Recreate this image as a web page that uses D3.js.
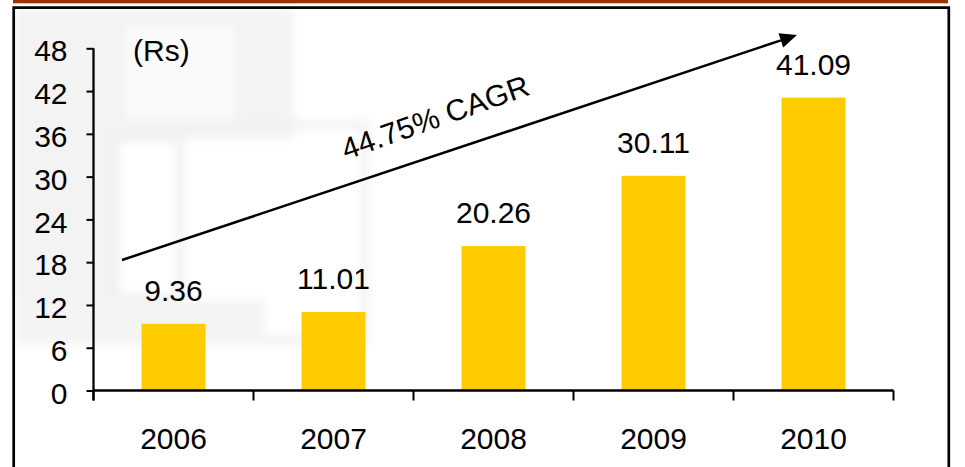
<!DOCTYPE html>
<html>
<head>
<meta charset="utf-8">
<script src="https://cdn.jsdelivr.net/npm/d3@7"></script>
<style>
  body { margin: 0; background: #fff; }
  svg { display: block; }
  text { font-family: "Liberation Sans", Arial, sans-serif; fill: #000; }
</style>
</head>
<body>
<main></main>
<script>
const years = ["2006", "2007", "2008", "2009", "2010"];
const values = [9.36, 11.01, 20.26, 30.11, 41.09];
const yTicks = [0, 6, 12, 18, 24, 30, 36, 42, 48];
const unitLabel = "(Rs)";
const cagrLabel = "44.75% CAGR";

const w = 965;
const h = 467;
const plotLeft = 93.5;
const plotRight = 893.5;
const plotBottom = 390.5;
const plotTop = 48.3;
const fontSize = 30;

const svg = d3.select("main")
  .append("svg")
  .attr("width", w)
  .attr("height", h);

// faint watermark in the background
const defs = svg.append("defs");
defs.append("filter").attr("id", "blur")
  .append("feGaussianBlur").attr("stdDeviation", 5);
const wm = svg.append("g").attr("filter", "url(#blur)").attr("opacity", 0.85);
wm.append("rect").attr("x", 15).attr("y", 9).attr("width", 100).attr("height", 300).attr("fill", "#f1f1f1");
wm.append("rect").attr("x", 113).attr("y", 9).attr("width", 180).attr("height", 130).attr("fill", "#f1f1f1");
wm.append("rect").attr("x", 125).attr("y", 25).attr("width", 110).attr("height", 95).attr("fill", "#fafafa");
wm.append("rect").attr("x", 115).attr("y", 138).attr("width", 65).attr("height", 160)
  .attr("fill", "none").attr("stroke", "#ededed").attr("stroke-width", 8);
wm.append("rect").attr("x", 180).attr("y", 125).attr("width", 185).attr("height", 215)
  .attr("fill", "none").attr("stroke", "#efefef").attr("stroke-width", 8);
wm.append("rect").attr("x", 15).attr("y", 300).attr("width", 250).attr("height", 45).attr("fill", "#f3f3f3");

// top red bar and frame
svg.append("rect")
  .attr("x", 13).attr("y", 0).attr("width", 935).attr("height", 3.3)
  .attr("fill", "#993300");
svg.append("path")
  .attr("d", "M13.7," + h + "V7.7H948.8V" + h)
  .attr("fill", "none")
  .attr("stroke", "#000")
  .attr("stroke-width", 2.7);

const xScale = d3.scaleBand()
  .domain(years)
  .range([plotLeft, plotRight])
  .paddingInner(0.6)
  .paddingOuter(0.3);

const yScale = d3.scaleLinear()
  .domain([0, 48])
  .range([plotBottom, plotTop]);

// bars
svg.selectAll(".bar")
  .data(values)
  .enter()
  .append("rect")
  .attr("class", "bar")
  .attr("x", (d, i) => xScale(years[i]))
  .attr("y", d => yScale(d))
  .attr("width", xScale.bandwidth())
  .attr("height", d => plotBottom - yScale(d))
  .attr("fill", "#ffcc00");

// y axis
const yAxis = d3.axisLeft(yScale)
  .tickValues(yTicks)
  .tickSize(7)
  .tickPadding(19)
  .tickFormat(d3.format("d"));
const gy = svg.append("g")
  .attr("transform", "translate(" + plotLeft + ",0)")
  .call(yAxis);
gy.select(".domain").attr("stroke-width", 2.3).attr("d", "M0," + plotTop + "V" + (plotBottom + 10));
gy.selectAll(".tick line").attr("stroke-width", 2);
gy.selectAll(".tick text")
  .attr("font-size", fontSize)
  .attr("font-family", "Liberation Sans, Arial, sans-serif")
  .attr("dy", "0.42em");

// x axis with ticks at category boundaries
const gx = svg.append("g")
  .attr("transform", "translate(0," + plotBottom + ")");
gx.append("line")
  .attr("x1", plotLeft).attr("x2", plotRight)
  .attr("stroke", "#000").attr("stroke-width", 2.3);
const step = xScale.step();
const boundaries = years.map(d => xScale(d) - step * 0.3).concat([plotRight]);
gx.selectAll(".xtick")
  .data(boundaries)
  .enter()
  .append("line")
  .attr("x1", d => d).attr("x2", d => d)
  .attr("y1", 0).attr("y2", 10)
  .attr("stroke", "#000").attr("stroke-width", 2);
gx.selectAll(".xlabel")
  .data(years)
  .enter()
  .append("text")
  .attr("x", d => xScale(d) + xScale.bandwidth() / 2)
  .attr("y", 58)
  .attr("text-anchor", "middle")
  .attr("font-size", fontSize)
  .text(d => d);

// value labels
svg.selectAll(".value")
  .data(values)
  .enter()
  .append("text")
  .attr("class", "value")
  .attr("x", (d, i) => xScale(years[i]) + xScale.bandwidth() / 2)
  .attr("y", d => yScale(d) - 23)
  .attr("text-anchor", "middle")
  .attr("font-size", fontSize)
  .text(d => d.toFixed(2));

// unit label
svg.append("text")
  .attr("x", 133)
  .attr("y", 61)
  .attr("font-size", fontSize)
  .text(unitLabel);

// CAGR arrow
const x1 = 122, y1 = 260, x2 = 797, y2 = 35;
const ang = Math.atan2(y2 - y1, x2 - x1);
const headLen = 17, headW = 7.5;
const bx = x2 - headLen * Math.cos(ang), by = y2 - headLen * Math.sin(ang);
svg.append("line")
  .attr("x1", x1).attr("y1", y1)
  .attr("x2", bx).attr("y2", by)
  .attr("stroke", "#000").attr("stroke-width", 2.5);
svg.append("path")
  .attr("d", "M" + x2 + "," + y2 +
    "L" + (bx + headW * Math.sin(ang)) + "," + (by - headW * Math.cos(ang)) +
    "L" + (bx - headW * Math.sin(ang)) + "," + (by + headW * Math.cos(ang)) + "Z")
  .attr("fill", "#000");

svg.append("text")
  .attr("transform", "translate(346,160) rotate(-19.5)")
  .attr("font-size", fontSize)
  .text(cagrLabel);
</script>
</body>
</html>
